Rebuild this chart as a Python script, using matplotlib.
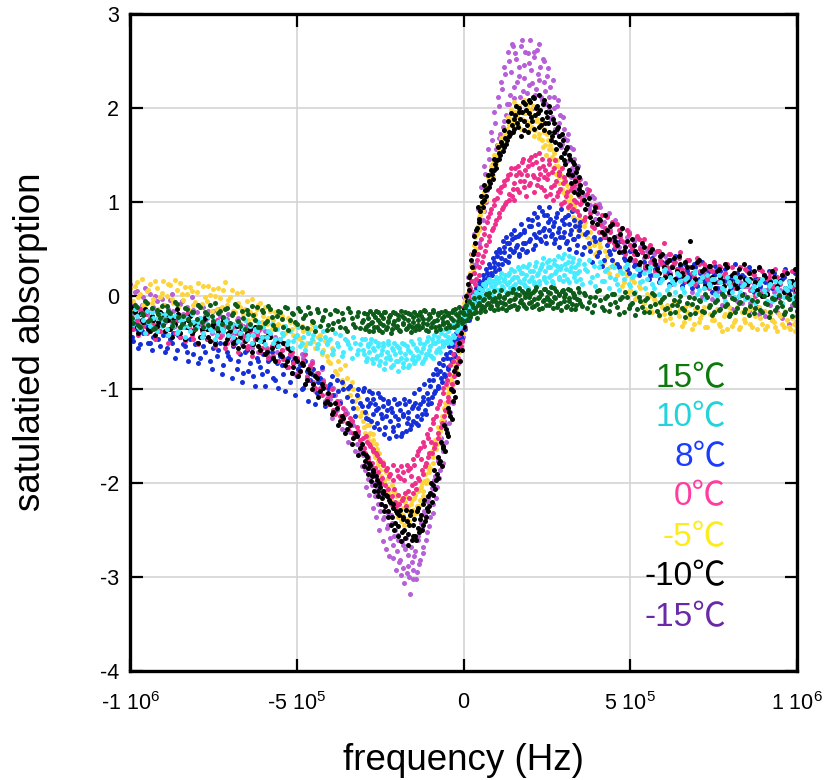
import matplotlib
matplotlib.use('Agg')
from matplotlib import pyplot as plt
import numpy as np

# frequency sweep, units of 1e5 Hz
freq = [-10.0,-9.9,-9.8,-9.7,-9.6,-9.5,-9.4,-9.3,-9.2,-9.1,
        -9.0,-8.9,-8.8,-8.7,-8.6,-8.5,-8.4,-8.3,-8.2,-8.1,
        -8.0,-7.9,-7.8,-7.7,-7.6,-7.5,-7.4,-7.3,-7.2,-7.1,
        -7.0,-6.9,-6.8,-6.7,-6.6,-6.5,-6.4,-6.3,-6.2,-6.1,
        -6.0,-5.9,-5.8,-5.7,-5.6,-5.5,-5.4,-5.3,-5.2,-5.1,
        -5.0,-4.9,-4.8,-4.7,-4.6,-4.5,-4.4,-4.3,-4.2,-4.1,
        -4.0,-3.9,-3.8,-3.7,-3.6,-3.5,-3.4,-3.3,-3.2,-3.1,
        -3.0,-2.95,-2.9,-2.85,-2.8,-2.75,-2.7,-2.65,-2.6,-2.55,
        -2.5,-2.45,-2.4,-2.35,-2.3,-2.25,-2.2,-2.15,-2.1,-2.05,
        -2.0,-1.95,-1.9,-1.85,-1.8,-1.75,-1.7,-1.65,-1.6,-1.55,
        -1.5,-1.45,-1.4,-1.35,-1.3,-1.25,-1.2,-1.15,-1.1,-1.05,
        -1.0,-0.95,-0.9,-0.85,-0.8,-0.75,-0.7,-0.65,-0.6,-0.55,
        -0.5,-0.45,-0.4,-0.35,-0.3,-0.25,-0.2,-0.15,-0.1,-0.05,
        0.0,0.05,0.1,0.15,0.2,0.25,0.3,0.35,0.4,0.45,
        0.5,0.55,0.6,0.65,0.7,0.75,0.8,0.85,0.9,0.95,
        1.0,1.05,1.1,1.15,1.2,1.25,1.3,1.35,1.4,1.45,
        1.5,1.55,1.6,1.65,1.7,1.75,1.8,1.85,1.9,1.95,
        2.0,2.05,2.1,2.15,2.2,2.25,2.3,2.35,2.4,2.45,
        2.5,2.55,2.6,2.65,2.7,2.75,2.8,2.85,2.9,2.95,
        3.0,3.05,3.1,3.15,3.2,3.25,3.3,3.35,3.4,3.45,
        3.5,3.6,3.7,3.8,3.9,4.0,4.1,4.2,4.3,4.4,
        4.5,4.6,4.7,4.8,4.9,5.0,5.1,5.2,5.3,5.4,
        5.5,5.6,5.7,5.8,5.9,6.0,6.1,6.2,6.3,6.4,
        6.5,6.6,6.7,6.8,6.9,7.0,7.1,7.2,7.3,7.4,
        7.5,7.6,7.7,7.8,7.9,8.0,8.1,8.2,8.3,8.4,
        8.5,8.6,8.7,8.8,8.9,9.0,9.1,9.2,9.3,9.4,
        9.5,9.6,9.7,9.8,9.9,10.0]

# second pass of points, in between the first ones
freq_b = [-9.95,-9.85,-9.75,-9.65,-9.55,-9.45,-9.35,-9.25,-9.15,-9.05,
          -8.95,-8.85,-8.75,-8.65,-8.55,-8.45,-8.35,-8.25,-8.15,-8.05,
          -7.95,-7.85,-7.75,-7.65,-7.55,-7.45,-7.35,-7.25,-7.15,-7.05,
          -6.95,-6.85,-6.75,-6.65,-6.55,-6.45,-6.35,-6.25,-6.15,-6.05,
          -5.95,-5.85,-5.75,-5.65,-5.55,-5.45,-5.35,-5.25,-5.15,-5.05,
          -4.95,-4.85,-4.75,-4.65,-4.55,-4.45,-4.35,-4.25,-4.15,-4.05,
          -3.95,-3.85,-3.75,-3.65,-3.55,-3.45,-3.35,-3.25,-3.15,-3.05,
          -2.975,-2.925,-2.875,-2.825,-2.775,-2.725,-2.675,-2.625,-2.575,-2.525,
          -2.475,-2.425,-2.375,-2.325,-2.275,-2.225,-2.175,-2.125,-2.075,-2.025,
          -1.975,-1.925,-1.875,-1.825,-1.775,-1.725,-1.675,-1.625,-1.575,-1.525,
          -1.475,-1.425,-1.375,-1.325,-1.275,-1.225,-1.175,-1.125,-1.075,-1.025,
          -0.975,-0.925,-0.875,-0.825,-0.775,-0.725,-0.675,-0.625,-0.575,-0.525,
          -0.475,-0.425,-0.375,-0.325,-0.275,-0.225,-0.175,-0.125,-0.075,-0.025,
          0.025,0.075,0.125,0.175,0.225,0.275,0.325,0.375,0.425,0.475,
          0.525,0.575,0.625,0.675,0.725,0.775,0.825,0.875,0.925,0.975,
          1.025,1.075,1.125,1.175,1.225,1.275,1.325,1.375,1.425,1.475,
          1.525,1.575,1.625,1.675,1.725,1.775,1.825,1.875,1.925,1.975,
          2.025,2.075,2.125,2.175,2.225,2.275,2.325,2.375,2.425,2.475,
          2.525,2.575,2.625,2.675,2.725,2.775,2.825,2.875,2.925,2.975,
          3.025,3.075,3.125,3.175,3.225,3.275,3.325,3.375,3.425,3.475,
          3.55,3.65,3.75,3.85,3.95,4.05,4.15,4.25,4.35,4.45,
          4.55,4.65,4.75,4.85,4.95,5.05,5.15,5.25,5.35,5.45,
          5.55,5.65,5.75,5.85,5.95,6.05,6.15,6.25,6.35,6.45,
          6.55,6.65,6.75,6.85,6.95,7.05,7.15,7.25,7.35,7.45,
          7.55,7.65,7.75,7.85,7.95,8.05,8.15,8.25,8.35,8.45,
          8.55,8.65,8.75,8.85,8.95,9.05,9.15,9.25,9.35,9.45,
          9.55,9.65,9.75,9.85,9.95,9.98]

abs_m15 = [0.12,-0.08,0.05,-0.15,-0.02,-0.20,0.02,-0.12,-0.06,-0.18,
           -0.10,-0.22,-0.05,-0.16,-0.26,-0.09,-0.20,-0.12,-0.28,-0.15,
           -0.18,-0.30,-0.12,-0.24,-0.33,-0.16,-0.28,-0.22,-0.36,-0.25,
           -0.30,-0.42,-0.26,-0.38,-0.32,-0.46,-0.35,-0.50,-0.40,-0.36,
           -0.45,-0.56,-0.42,-0.52,-0.60,-0.48,-0.66,-0.55,-0.62,-0.72,
           -0.68,-0.80,-0.66,-0.86,-0.74,-0.92,-0.82,-0.98,-0.90,-1.05,
           -1.10,-0.98,-1.22,-1.12,-1.32,-1.25,-1.45,-1.38,-1.58,-1.66,
           -1.70,-1.86,-1.78,-1.95,-1.84,-2.02,-1.92,-2.14,-2.04,-2.22,
           -2.30,-2.12,-2.38,-2.24,-2.48,-2.32,-2.58,-2.42,-2.66,-2.50,
           -2.72,-2.55,-2.82,-2.62,-2.90,-2.70,-2.96,-2.76,-3.18,-2.84,
           -3.02,-2.72,-2.94,-2.60,-2.82,-2.48,-2.68,-2.34,-2.52,-2.20,
           -2.36,-2.05,-2.22,-1.92,-2.04,-1.76,-1.86,-1.58,-1.66,-1.38,
           -1.45,-1.20,-1.24,-1.00,-1.02,-0.78,-0.82,-0.56,-0.58,-0.34,
           -0.30,-0.12,-0.10,0.10,0.06,0.34,0.24,0.56,0.44,0.82,
           0.72,1.06,0.90,1.30,1.12,1.46,1.26,1.66,1.42,1.84,
           1.60,2.02,1.72,2.20,1.86,2.36,2.04,2.50,2.14,2.68,
           2.22,2.58,2.28,2.44,2.12,2.72,2.32,2.60,2.16,2.48,
           2.72,2.26,2.54,2.14,2.62,2.30,2.44,2.08,2.50,2.18,
           2.34,1.98,2.22,1.90,2.12,1.78,2.02,1.70,1.92,1.62,
           1.78,1.52,1.66,1.44,1.58,1.36,1.46,1.28,1.36,1.18,
           1.24,1.06,1.14,0.96,1.04,0.88,0.94,0.78,0.86,0.70,
           0.76,0.64,0.70,0.56,0.62,0.48,0.58,0.44,0.52,0.40,
           0.48,0.36,0.44,0.30,0.42,0.26,0.38,0.24,0.34,0.20,
           0.30,0.16,0.28,0.14,0.24,0.10,0.26,0.08,0.20,0.12,
           0.22,0.04,0.18,-0.02,0.16,0.06,0.12,-0.06,0.14,0.02,
           0.10,-0.08,0.12,-0.12,0.08,-0.16,0.06,-0.10,0.04,-0.18,
           0.06,-0.20,0.02,-0.14,-0.06,-0.22]

abs_m15_b = [-0.20,0.04,-0.26,-0.10,0.08,-0.30,-0.14,0.00,-0.24,-0.04,
             -0.28,-0.14,0.02,-0.32,-0.20,-0.06,-0.34,-0.18,-0.02,-0.28,
             -0.10,-0.36,-0.22,-0.16,-0.40,-0.30,-0.14,-0.42,-0.32,-0.20,
             -0.48,-0.34,-0.24,-0.52,-0.44,-0.30,-0.56,-0.40,-0.60,-0.46,
             -0.38,-0.64,-0.54,-0.44,-0.70,-0.58,-0.50,-0.76,-0.64,-0.84,
             -0.78,-0.62,-0.94,-0.82,-0.70,-1.02,-0.88,-0.78,-1.12,-0.96,
             -1.30,-1.06,-1.16,-1.42,-1.22,-1.56,-1.34,-1.66,-1.48,-1.82,
             -1.62,-2.04,-1.74,-2.12,-1.90,-2.26,-2.00,-2.36,-2.10,-2.50,
             -2.22,-2.62,-2.36,-2.70,-2.44,-2.78,-2.34,-2.80,-2.56,-2.92,
             -2.60,-2.84,-2.98,-2.66,-3.06,-2.58,-2.88,-3.00,-2.68,-2.92,
             -2.78,-3.02,-2.56,-2.86,-2.42,-2.74,-2.30,-2.60,-2.16,-2.46,
             -2.10,-2.32,-1.96,-2.16,-1.74,-1.94,-1.52,-1.78,-1.34,-1.56,
             -1.14,-1.36,-0.92,-1.14,-0.70,-0.92,-0.46,-0.70,-0.26,-0.44,
             -0.02,-0.22,0.20,0.00,0.44,0.16,0.66,0.34,0.92,0.56,
             1.16,0.80,1.38,1.00,1.56,1.20,1.74,1.40,1.96,1.56,
             2.12,1.68,2.28,1.80,2.44,1.92,2.60,2.04,2.38,2.66,
             2.10,2.52,1.96,2.34,2.66,2.18,2.46,1.98,2.58,2.24,
             2.40,2.00,2.60,2.20,2.36,2.68,2.12,2.52,2.28,2.04,
             2.42,2.12,1.88,2.30,2.00,1.74,2.08,1.84,1.58,1.90,
             1.68,1.42,1.72,1.50,1.26,1.56,1.32,1.14,1.38,1.10,
             1.00,1.20,0.92,1.06,0.82,0.98,0.74,0.66,0.88,0.60,
             0.80,0.52,0.72,0.46,0.68,0.38,0.60,0.32,0.54,0.28,
             0.50,0.22,0.46,0.34,0.18,0.42,0.28,0.12,0.36,0.24,
             0.10,0.34,0.20,0.04,0.30,0.16,-0.02,0.24,0.14,-0.04,
             0.26,0.08,-0.10,0.18,0.02,-0.14,0.20,0.10,-0.08,0.14,
             -0.16,0.08,0.16,-0.20,0.04,-0.22,0.12,-0.26,-0.04,0.06,
             -0.24,0.02,-0.30,-0.10,0.04,-0.28]

abs_m5 = [0.08,-0.06,0.14,0.02,-0.10,0.05,0.12,-0.04,0.08,-0.02,
          0.15,0.00,0.11,-0.08,0.06,0.13,-0.05,0.02,0.09,-0.10,
          0.04,-0.12,0.10,-0.06,0.01,0.07,-0.14,-0.03,0.06,-0.10,
          -0.02,-0.16,0.03,-0.12,-0.20,-0.06,-0.18,-0.24,-0.14,-0.08,
          -0.22,-0.30,-0.16,-0.26,-0.34,-0.20,-0.32,-0.38,-0.28,-0.42,
          -0.34,-0.46,-0.38,-0.50,-0.36,-0.48,-0.52,-0.42,-0.58,-0.64,
          -0.72,-0.62,-0.84,-0.78,-0.94,-0.88,-1.06,-1.00,-1.20,-1.28,
          -1.34,-1.46,-1.38,-1.54,-1.46,-1.62,-1.54,-1.72,-1.64,-1.80,
          -1.86,-1.76,-1.96,-1.86,-2.04,-1.94,-2.14,-2.02,-2.22,-2.10,
          -2.24,-2.12,-2.30,-2.16,-2.34,-2.20,-2.38,-2.24,-2.32,-2.18,
          -2.28,-2.12,-2.24,-2.06,-2.18,-2.00,-2.08,-1.90,-1.96,-1.80,
          -1.84,-1.66,-1.72,-1.54,-1.58,-1.40,-1.44,-1.28,-1.32,-1.14,
          -1.16,-0.98,-1.02,-0.86,-0.86,-0.66,-0.68,-0.46,-0.50,-0.28,
          -0.18,-0.02,0.02,0.20,0.24,0.44,0.46,0.62,0.66,0.84,
          0.86,0.98,1.04,1.12,1.18,1.24,1.30,1.36,1.42,1.46,
          1.50,1.56,1.62,1.66,1.70,1.74,1.78,1.82,1.84,1.88,
          1.86,1.96,1.92,2.02,1.96,1.88,2.06,1.94,2.00,1.84,
          1.98,1.80,1.92,1.76,1.88,1.72,1.84,1.66,1.78,1.60,
          1.72,1.56,1.60,1.48,1.52,1.38,1.44,1.26,1.34,1.14,
          1.24,1.08,1.18,0.98,1.06,0.90,0.98,0.82,0.90,0.74,
          0.82,0.74,0.62,0.68,0.54,0.46,0.52,0.36,0.42,0.30,
          0.34,0.22,0.28,0.14,0.22,0.06,0.14,-0.02,0.08,-0.08,
          0.02,-0.12,-0.04,-0.16,-0.08,-0.20,-0.10,-0.24,-0.06,-0.18,
          -0.14,-0.28,-0.18,-0.10,-0.30,-0.16,-0.24,-0.12,-0.34,-0.20,
          -0.26,-0.14,-0.32,-0.22,-0.36,-0.18,-0.28,-0.12,-0.33,-0.25,
          -0.18,-0.30,-0.14,-0.36,-0.24,-0.16,-0.32,-0.20,-0.28,-0.38,
          -0.22,-0.34,-0.26,-0.36,-0.30,-0.34]

abs_m5_b = [-0.14,0.10,-0.02,0.18,-0.12,0.06,-0.08,0.16,-0.14,0.03,
            -0.10,0.12,-0.04,0.17,-0.12,0.02,0.09,-0.14,0.05,-0.07,
            0.13,-0.09,-0.02,0.10,-0.16,0.00,0.08,-0.12,0.14,-0.05,
            0.06,-0.18,-0.08,0.04,-0.14,-0.26,-0.04,-0.20,-0.10,-0.28,
            -0.12,-0.24,-0.36,-0.18,-0.30,-0.22,-0.40,-0.24,-0.36,-0.30,
            -0.44,-0.32,-0.54,-0.40,-0.30,-0.56,-0.44,-0.62,-0.48,-0.70,
            -0.56,-0.80,-0.70,-0.90,-0.74,-1.00,-0.92,-1.12,-1.08,-1.24,
            -1.40,-1.26,-1.50,-1.38,-1.58,-1.48,-1.68,-1.58,-1.76,-1.68,
            -1.92,-1.80,-1.98,-1.88,-2.10,-1.90,-2.18,-2.08,-2.26,-2.14,
            -2.36,-2.20,-2.40,-2.26,-2.44,-2.14,-2.30,-2.40,-2.22,-2.34,
            -2.16,-2.32,-2.08,-2.24,-2.04,-2.14,-1.98,-2.00,-1.84,-1.88,
            -1.70,-1.78,-1.60,-1.64,-1.46,-1.50,-1.34,-1.38,-1.20,-1.24,
            -1.04,-1.10,-0.90,-0.94,-0.74,-0.78,-0.56,-0.60,-0.36,-0.40,
            -0.08,-0.12,0.12,0.08,0.32,0.28,0.54,0.50,0.74,0.70,
            0.94,0.90,1.10,1.02,1.26,1.16,1.38,1.28,1.50,1.40,
            1.60,1.52,1.68,1.60,1.76,1.66,1.90,1.72,1.98,1.80,
            2.06,1.90,1.82,2.00,1.78,1.94,2.08,1.86,2.04,1.76,
            1.90,2.02,1.70,1.86,1.96,1.68,1.82,1.58,1.74,1.50,
            1.66,1.46,1.56,1.36,1.46,1.30,1.38,1.20,1.28,1.10,
            1.20,1.02,1.12,0.92,1.02,0.84,0.94,0.78,0.70,0.86,
            0.66,0.78,0.52,0.60,0.44,0.56,0.32,0.48,0.24,0.38,
            0.18,0.30,0.10,0.24,0.04,0.18,-0.04,0.10,-0.06,-0.14,
            0.00,-0.18,-0.06,-0.22,-0.12,-0.26,-0.14,-0.30,-0.08,-0.22,
            -0.32,-0.12,-0.24,-0.36,-0.14,-0.28,-0.20,-0.34,-0.10,-0.26,
            -0.16,-0.30,-0.38,-0.20,-0.12,-0.32,-0.26,-0.36,-0.18,-0.28,
            -0.14,-0.34,-0.22,-0.12,-0.30,-0.36,-0.18,-0.26,-0.34,-0.20,
            -0.30,-0.16,-0.34,-0.24,-0.38,-0.28]

abs_8 = [-0.32,-0.48,-0.36,-0.52,-0.40,-0.34,-0.50,-0.44,-0.38,-0.54,
         -0.42,-0.56,-0.46,-0.40,-0.58,-0.44,-0.52,-0.60,-0.46,-0.62,
         -0.50,-0.66,-0.54,-0.46,-0.70,-0.56,-0.64,-0.50,-0.74,-0.60,
         -0.68,-0.54,-0.78,-0.62,-0.82,-0.58,-0.72,-0.86,-0.66,-0.76,
         -0.62,-0.80,-0.68,-0.88,-0.72,-0.64,-0.84,-0.76,-0.92,-0.70,
         -0.86,-0.74,-0.98,-0.80,-0.90,-0.78,-1.04,-0.88,-0.96,-1.10,
         -0.94,-1.06,-0.90,-1.14,-1.00,-1.08,-0.96,-1.20,-1.06,-1.14,
         -1.02,-1.24,-1.10,-1.32,-1.14,-1.04,-1.26,-1.16,-1.36,-1.20,
         -1.08,-1.30,-1.18,-1.40,-1.22,-1.12,-1.34,-1.24,-1.44,-1.28,
         -1.16,-1.38,-1.22,-1.46,-1.28,-1.16,-1.36,-1.24,-1.42,-1.20,
         -1.34,-1.14,-1.28,-1.38,-1.16,-1.26,-1.08,-1.22,-1.04,-1.16,
         -0.96,-1.08,-0.90,-1.02,-0.84,-0.96,-0.80,-0.92,-0.74,-0.86,
         -0.66,-0.78,-0.60,-0.70,-0.54,-0.64,-0.46,-0.56,-0.38,-0.46,
         -0.28,-0.36,-0.18,-0.26,-0.10,-0.16,-0.04,-0.08,0.04,0.00,
         0.12,0.06,0.18,0.12,0.24,0.16,0.30,0.22,0.36,0.26,
         0.42,0.28,0.46,0.34,0.52,0.38,0.56,0.42,0.50,0.60,
         0.48,0.62,0.54,0.44,0.66,0.50,0.70,0.56,0.48,0.74,
         0.60,0.80,0.66,0.54,0.84,0.68,0.60,0.90,0.72,0.64,
         0.86,0.70,0.82,0.66,0.78,0.60,0.88,0.72,0.62,0.80,
         0.68,0.84,0.58,0.76,0.66,0.90,0.60,0.74,0.54,0.70,
         0.78,0.52,0.68,0.48,0.62,0.42,0.60,0.38,0.54,0.44,
         0.50,0.34,0.58,0.40,0.28,0.48,0.32,0.44,0.26,0.36,
         0.42,0.22,0.36,0.30,0.18,0.34,0.24,0.38,0.16,0.28,
         0.32,0.14,0.26,0.20,0.34,0.10,0.24,0.16,0.28,0.12,
         0.22,0.08,0.26,0.16,0.30,0.06,0.18,0.24,0.10,0.20,
         0.14,0.26,0.04,0.18,0.10,0.22,0.02,0.16,0.24,0.08,
         0.14,0.20,0.02,0.16,0.06,0.12]

abs_8_b = [-0.44,-0.30,-0.56,-0.38,-0.28,-0.50,-0.58,-0.34,-0.46,-0.30,
           -0.60,-0.36,-0.50,-0.66,-0.42,-0.32,-0.54,-0.70,-0.40,-0.52,
           -0.72,-0.44,-0.60,-0.36,-0.78,-0.48,-0.58,-0.84,-0.52,-0.64,
           -0.88,-0.50,-0.70,-0.92,-0.60,-0.80,-0.52,-0.96,-0.70,-0.84,
           -0.96,-0.70,-0.60,-0.90,-0.98,-0.74,-1.02,-0.66,-0.82,-1.06,
           -0.78,-1.00,-0.70,-1.12,-0.84,-1.16,-0.92,-0.76,-1.18,-0.98,
           -0.86,-1.22,-1.02,-0.92,-1.26,-0.98,-1.12,-1.28,-1.00,-1.18,
           -0.98,-1.30,-1.18,-1.02,-1.34,-1.10,-1.40,-1.22,-1.04,-1.42,
           -1.26,-1.10,-1.48,-1.28,-1.14,-1.52,-1.20,-1.40,-1.10,-1.50,
           -1.32,-1.14,-1.50,-1.26,-1.10,-1.44,-1.30,-1.12,-1.38,-1.18,
           -1.04,-1.36,-1.20,-1.00,-1.32,-1.12,-0.94,-1.26,-1.10,-0.90,
           -1.14,-0.84,-1.04,-0.78,-0.98,-0.72,-0.88,-0.68,-0.84,-0.62,
           -0.76,-0.54,-0.68,-0.48,-0.62,-0.40,-0.52,-0.34,-0.44,-0.24,
           -0.32,-0.14,-0.22,-0.06,-0.14,0.02,-0.02,0.08,0.06,0.16,
           0.10,0.22,0.16,0.28,0.20,0.34,0.24,0.40,0.30,0.46,
           0.34,0.50,0.40,0.58,0.46,0.62,0.36,0.56,0.66,0.46,
           0.70,0.52,0.64,0.42,0.76,0.56,0.68,0.46,0.82,0.58,
           0.74,0.50,0.88,0.62,0.76,0.94,0.58,0.70,0.86,0.56,
           0.78,0.94,0.64,0.74,0.56,0.84,0.68,0.52,0.92,0.62,
           0.76,0.56,0.86,0.50,0.70,0.60,0.80,0.46,0.64,0.74,
           0.44,0.66,0.56,0.36,0.58,0.46,0.32,0.62,0.48,0.38,
           0.56,0.30,0.46,0.38,0.24,0.52,0.34,0.22,0.46,0.30,
           0.18,0.40,0.28,0.14,0.36,0.26,0.12,0.30,0.42,0.20,
           0.10,0.34,0.22,0.08,0.30,0.18,0.36,0.12,0.26,0.04,
           0.32,0.14,0.04,0.28,0.20,0.10,0.34,0.00,0.22,0.12,
           0.30,0.06,0.18,0.28,0.00,0.14,0.26,0.08,0.20,-0.02,
           0.18,0.28,0.06,0.12,0.24,-0.02]

abs_0 = [-0.22,-0.36,-0.26,-0.14,-0.32,-0.40,-0.24,-0.30,-0.18,-0.38,
         -0.28,-0.42,-0.22,-0.34,-0.26,-0.44,-0.30,-0.20,-0.36,-0.46,
         -0.34,-0.24,-0.42,-0.30,-0.48,-0.36,-0.26,-0.44,-0.38,-0.50,
         -0.34,-0.52,-0.40,-0.30,-0.46,-0.56,-0.38,-0.50,-0.42,-0.60,
         -0.48,-0.58,-0.42,-0.64,-0.52,-0.46,-0.68,-0.56,-0.62,-0.72,
         -0.66,-0.80,-0.70,-0.88,-0.76,-0.94,-0.84,-1.00,-0.92,-1.10,
         -1.06,-1.22,-1.12,-1.28,-1.20,-1.36,-1.30,-1.46,-1.40,-1.54,
         -1.52,-1.68,-1.56,-1.74,-1.60,-1.78,-1.66,-1.84,-1.70,-1.88,
         -1.76,-1.94,-1.80,-2.02,-1.84,-2.06,-1.90,-2.14,-1.96,-2.20,
         -1.86,-2.12,-1.94,-2.18,-1.88,-2.10,-1.80,-2.08,-1.84,-2.02,
         -1.74,-2.00,-1.70,-1.94,-1.62,-1.86,-1.56,-1.82,-1.48,-1.72,
         -1.42,-1.68,-1.32,-1.58,-1.20,-1.46,-1.12,-1.36,-0.98,-1.22,
         -0.90,-1.08,-0.74,-0.94,-0.62,-0.80,-0.50,-0.66,-0.36,-0.48,
         -0.22,-0.34,-0.06,-0.18,0.08,-0.02,0.24,0.12,0.38,0.22,
         0.52,0.36,0.66,0.48,0.78,0.58,0.88,0.70,0.96,0.76,
         1.04,0.84,1.10,0.92,1.18,0.98,1.24,1.02,1.30,1.06,
         1.20,1.36,1.14,1.32,1.22,1.42,1.16,1.34,1.28,1.44,
         1.20,1.40,1.26,1.50,1.18,1.36,1.30,1.46,1.12,1.34,
         1.24,1.40,1.08,1.32,1.18,1.44,1.06,1.28,1.14,1.36,
         1.00,1.22,1.10,1.32,0.96,1.16,1.02,1.24,0.90,1.06,
         0.98,0.80,1.08,0.88,0.72,0.94,0.76,0.62,0.84,0.68,
         0.56,0.76,0.62,0.48,0.70,0.54,0.44,0.64,0.50,0.60,
         0.42,0.54,0.34,0.48,0.38,0.56,0.30,0.44,0.36,0.28,
         0.46,0.24,0.38,0.30,0.20,0.40,0.26,0.34,0.18,0.28,
         0.36,0.14,0.30,0.22,0.34,0.12,0.24,0.18,0.30,0.10,
         0.26,0.06,0.22,0.16,0.28,0.04,0.18,0.24,0.10,0.20,
         0.12,0.26,0.02,0.16,0.08,0.20]

abs_0_b = [-0.30,-0.16,-0.42,-0.28,-0.20,-0.36,-0.24,-0.46,-0.32,-0.22,
           -0.38,-0.50,-0.28,-0.40,-0.24,-0.34,-0.48,-0.26,-0.42,-0.30,
           -0.52,-0.38,-0.28,-0.46,-0.34,-0.54,-0.42,-0.32,-0.56,-0.44,
           -0.36,-0.48,-0.60,-0.42,-0.34,-0.54,-0.64,-0.46,-0.38,-0.56,
           -0.44,-0.66,-0.54,-0.48,-0.70,-0.58,-0.52,-0.76,-0.60,-0.68,
           -0.84,-0.72,-0.62,-0.90,-0.72,-0.98,-0.82,-1.06,-0.96,-1.16,
           -1.00,-1.26,-1.16,-1.34,-1.26,-1.42,-1.34,-1.50,-1.44,-1.60,
           -1.62,-1.50,-1.72,-1.58,-1.82,-1.64,-1.90,-1.68,-1.96,-1.74,
           -2.00,-1.78,-2.08,-1.86,-2.14,-1.92,-2.22,-1.80,-2.06,-2.24,
           -1.92,-2.22,-1.82,-2.16,-1.96,-2.24,-1.86,-2.16,-1.92,-2.10,
           -1.80,-2.06,-1.66,-1.96,-1.74,-1.90,-1.60,-1.78,-1.52,-1.68,
           -1.56,-1.36,-1.62,-1.28,-1.52,-1.16,-1.40,-1.04,-1.28,-0.94,
           -1.12,-0.84,-1.00,-0.70,-0.86,-0.56,-0.72,-0.42,-0.54,-0.30,
           -0.12,-0.26,0.02,-0.10,0.16,0.04,0.30,0.18,0.44,0.30,
           0.60,0.42,0.72,0.54,0.84,0.64,0.92,0.72,1.02,0.80,
           1.12,0.88,1.16,0.94,1.22,1.00,1.28,1.08,1.36,1.14,
           1.02,1.28,1.38,1.10,1.30,1.46,1.22,1.06,1.38,1.18,
           1.48,1.28,1.10,1.42,1.24,1.52,1.16,1.38,1.26,1.06,
           1.30,1.44,1.16,1.02,1.36,1.22,1.10,1.32,0.98,1.20,
           1.26,1.06,0.94,1.28,1.12,0.92,1.18,1.00,1.22,0.86,
           1.02,0.84,1.12,0.74,0.96,0.68,0.86,0.72,0.58,0.78,
           0.52,0.70,0.58,0.44,0.66,0.50,0.38,0.60,0.46,0.32,
           0.52,0.38,0.26,0.48,0.34,0.22,0.44,0.32,0.18,0.40,
           0.28,0.16,0.38,0.24,0.12,0.34,0.20,0.30,0.08,0.26,
           0.16,0.32,0.06,0.24,0.12,0.30,0.08,0.20,0.02,0.28,
           0.14,0.24,0.00,0.18,0.26,0.06,0.20,0.10,0.28,0.00,
           0.22,0.06,0.16,0.26,0.04,0.14]

abs_m10 = [-0.24,-0.12,-0.34,-0.20,-0.28,-0.16,-0.38,-0.26,-0.32,-0.18,
           -0.30,-0.20,-0.36,-0.24,-0.14,-0.40,-0.28,-0.34,-0.22,-0.38,
           -0.30,-0.44,-0.26,-0.36,-0.48,-0.30,-0.42,-0.34,-0.24,-0.46,
           -0.38,-0.50,-0.32,-0.44,-0.54,-0.40,-0.36,-0.52,-0.46,-0.58,
           -0.48,-0.60,-0.44,-0.66,-0.54,-0.62,-0.50,-0.70,-0.58,-0.76,
           -0.70,-0.80,-0.74,-0.90,-0.82,-0.94,-0.88,-1.02,-0.98,-1.12,
           -1.16,-1.24,-1.20,-1.34,-1.30,-1.42,-1.38,-1.52,-1.50,-1.62,
           -1.68,-1.76,-1.72,-1.84,-1.80,-1.92,-1.88,-2.02,-1.96,-2.08,
           -2.04,-2.16,-2.10,-2.24,-2.14,-2.30,-2.20,-2.36,-2.26,-2.42,
           -2.32,-2.46,-2.28,-2.52,-2.36,-2.58,-2.40,-2.54,-2.34,-2.60,
           -2.44,-2.56,-2.30,-2.48,-2.38,-2.50,-2.22,-2.40,-2.26,-2.30,
           -2.10,-2.20,-2.02,-2.06,-1.90,-1.94,-1.76,-1.82,-1.62,-1.66,
           -1.46,-1.50,-1.28,-1.32,-1.12,-1.08,-0.92,-0.84,-0.70,-0.58,
           -0.34,-0.22,-0.06,0.06,0.22,0.30,0.48,0.56,0.72,0.82,
           0.90,1.00,1.02,1.12,1.14,1.22,1.20,1.30,1.34,1.40,
           1.44,1.52,1.50,1.60,1.58,1.68,1.66,1.74,1.72,1.82,
           1.78,1.92,1.84,2.00,1.88,1.96,1.76,2.04,1.82,1.94,
           2.06,1.86,2.10,1.92,2.02,1.80,1.98,1.88,2.08,1.84,
           1.90,1.74,1.96,1.70,1.84,1.64,1.78,1.70,1.60,1.72,
           1.52,1.40,1.58,1.34,1.46,1.28,1.40,1.22,1.36,1.14,
           1.18,1.02,0.98,0.84,0.90,0.76,0.80,0.66,0.70,0.74,
           0.62,0.54,0.66,0.48,0.58,0.40,0.54,0.44,0.36,0.52,
           0.32,0.46,0.38,0.28,0.42,0.30,0.36,0.22,0.40,0.26,
           0.34,0.20,0.30,0.58,0.24,0.36,0.16,0.28,0.22,0.32,
           0.14,0.26,0.20,0.10,0.30,0.16,0.24,0.08,0.20,0.34,
           0.12,0.18,0.26,0.06,0.16,0.22,0.02,0.14,0.20,0.10,
           0.16,0.04,0.24,0.12,-0.04,0.18]

abs_m10_b = [-0.30,-0.18,-0.40,-0.26,-0.14,-0.36,-0.22,-0.42,-0.28,-0.20,
             -0.38,-0.26,-0.44,-0.30,-0.20,-0.34,-0.46,-0.26,-0.40,-0.32,
             -0.50,-0.36,-0.24,-0.44,-0.34,-0.52,-0.38,-0.28,-0.50,-0.40,
             -0.30,-0.46,-0.56,-0.36,-0.48,-0.42,-0.60,-0.34,-0.54,-0.44,
             -0.62,-0.42,-0.56,-0.70,-0.48,-0.64,-0.74,-0.56,-0.82,-0.66,
             -0.86,-0.72,-0.94,-0.78,-1.00,-0.86,-1.08,-0.94,-1.14,-1.04,
             -1.26,-1.14,-1.38,-1.28,-1.46,-1.36,-1.58,-1.46,-1.70,-1.58,
             -1.82,-1.70,-1.90,-1.78,-1.98,-1.86,-2.08,-1.92,-2.14,-2.00,
             -2.22,-2.08,-2.30,-2.12,-2.36,-2.18,-2.44,-2.22,-2.50,-2.30,
             -2.56,-2.34,-2.62,-2.38,-2.50,-2.28,-2.66,-2.44,-2.30,-2.56,
             -2.38,-2.60,-2.26,-2.52,-2.34,-2.44,-2.18,-2.36,-2.14,-2.24,
             -2.00,-2.12,-1.86,-1.96,-1.72,-1.78,-1.56,-1.60,-1.38,-1.42,
             -1.20,-1.24,-1.00,-1.02,-0.80,-0.76,-0.58,-0.50,-0.40,-0.30,
             -0.14,0.00,0.12,0.20,0.38,0.44,0.64,0.70,0.94,0.78,
             1.06,0.94,1.18,1.06,1.28,1.16,1.34,1.24,1.46,1.36,
             1.58,1.46,1.64,1.54,1.76,1.62,1.86,1.70,1.94,1.74,
             1.88,2.02,1.80,1.96,1.70,2.06,1.86,1.98,1.74,2.08,
             1.90,2.12,1.78,2.00,1.94,2.14,1.82,2.04,1.76,1.96,
             1.84,2.02,1.66,1.88,1.74,1.56,1.80,1.62,1.48,1.66,
             1.44,1.56,1.30,1.50,1.20,1.42,1.10,1.32,1.08,1.26,
             1.10,0.92,1.04,0.78,0.94,0.82,0.68,0.86,0.60,0.76,
             0.58,0.46,0.72,0.52,0.38,0.60,0.48,0.34,0.56,0.42,
             0.28,0.50,0.34,0.24,0.44,0.20,0.38,0.30,0.18,0.42,
             0.24,0.36,0.14,0.30,0.18,0.38,0.26,0.10,0.32,0.20,
             0.08,0.28,0.16,0.34,0.04,0.22,0.12,0.28,0.02,0.18,
             0.24,0.06,0.14,0.30,0.00,0.20,0.10,0.26,-0.02,0.14,
             0.22,0.08,0.02,0.16,0.28,0.06]

abs_10 = [-0.18,-0.30,-0.22,-0.36,-0.26,-0.16,-0.32,-0.24,-0.38,-0.20,
          -0.28,-0.36,-0.22,-0.32,-0.40,-0.26,-0.34,-0.24,-0.38,-0.28,
          -0.34,-0.24,-0.40,-0.30,-0.36,-0.26,-0.42,-0.32,-0.38,-0.28,
          -0.34,-0.44,-0.30,-0.40,-0.36,-0.46,-0.32,-0.42,-0.38,-0.48,
          -0.34,-0.44,-0.40,-0.50,-0.36,-0.46,-0.42,-0.52,-0.38,-0.48,
          -0.42,-0.54,-0.44,-0.36,-0.50,-0.42,-0.56,-0.46,-0.38,-0.52,
          -0.46,-0.58,-0.50,-0.42,-0.60,-0.48,-0.56,-0.44,-0.62,-0.52,
          -0.58,-0.46,-0.66,-0.54,-0.50,-0.68,-0.56,-0.48,-0.64,-0.54,
          -0.70,-0.58,-0.50,-0.72,-0.60,-0.52,-0.68,-0.56,-0.74,-0.62,
          -0.54,-0.70,-0.60,-0.50,-0.72,-0.62,-0.54,-0.76,-0.60,-0.68,
          -0.52,-0.70,-0.58,-0.64,-0.50,-0.72,-0.56,-0.66,-0.48,-0.62,
          -0.54,-0.46,-0.66,-0.50,-0.58,-0.44,-0.60,-0.48,-0.54,-0.42,
          -0.50,-0.38,-0.46,-0.34,-0.42,-0.30,-0.38,-0.26,-0.34,-0.22,
          -0.28,-0.18,-0.24,-0.12,-0.20,-0.06,-0.14,-0.02,-0.10,0.02,
          -0.06,0.06,0.00,0.10,0.04,0.14,0.02,0.16,0.08,0.12,
          0.18,0.06,0.20,0.10,0.16,0.22,0.12,0.24,0.08,0.18,
          0.26,0.12,0.20,0.28,0.14,0.24,0.18,0.10,0.30,0.16,
          0.26,0.20,0.12,0.32,0.22,0.16,0.28,0.34,0.18,0.26,
          0.36,0.20,0.30,0.16,0.38,0.24,0.32,0.18,0.28,0.40,
          0.22,0.34,0.18,0.42,0.26,0.36,0.20,0.30,0.24,0.38,
          0.18,0.34,0.26,0.14,0.32,0.22,0.36,0.16,0.28,0.20,
          0.30,0.12,0.26,0.18,0.34,0.10,0.22,0.28,0.14,0.24,
          0.18,0.30,0.08,0.22,0.14,0.26,0.06,0.20,0.12,0.24,
          0.16,0.04,0.20,0.12,0.24,0.02,0.16,0.08,0.22,0.10,
          0.18,0.00,0.14,0.06,0.20,0.10,-0.02,0.16,0.04,0.12,
          0.18,-0.04,0.10,0.02,0.14,0.06,-0.06,0.12,0.00,0.08,
          0.14,-0.02,0.06,0.10,0.00,0.06]

abs_10_b = [-0.26,-0.14,-0.34,-0.20,-0.40,-0.28,-0.18,-0.36,-0.24,-0.32,
            -0.20,-0.42,-0.30,-0.22,-0.38,-0.26,-0.44,-0.32,-0.20,-0.36,
            -0.28,-0.44,-0.34,-0.22,-0.38,-0.46,-0.28,-0.36,-0.26,-0.42,
            -0.30,-0.38,-0.48,-0.34,-0.26,-0.42,-0.50,-0.36,-0.28,-0.44,
            -0.52,-0.38,-0.30,-0.46,-0.54,-0.40,-0.32,-0.48,-0.56,-0.44,
            -0.34,-0.50,-0.58,-0.40,-0.46,-0.34,-0.52,-0.60,-0.44,-0.48,
            -0.62,-0.40,-0.54,-0.64,-0.46,-0.52,-0.66,-0.50,-0.58,-0.46,
            -0.62,-0.70,-0.52,-0.60,-0.46,-0.72,-0.58,-0.66,-0.50,-0.74,
            -0.62,-0.54,-0.78,-0.66,-0.48,-0.64,-0.76,-0.58,-0.50,-0.70,
            -0.80,-0.56,-0.66,-0.76,-0.52,-0.68,-0.58,-0.74,-0.48,-0.64,
            -0.72,-0.56,-0.66,-0.46,-0.60,-0.70,-0.52,-0.62,-0.44,-0.58,
            -0.64,-0.50,-0.42,-0.60,-0.48,-0.56,-0.40,-0.52,-0.36,-0.48,
            -0.44,-0.32,-0.50,-0.30,-0.44,-0.28,-0.36,-0.22,-0.30,-0.18,
            -0.22,-0.10,-0.18,-0.06,-0.16,0.00,-0.08,0.04,-0.04,0.08,
            0.02,0.12,-0.02,0.14,0.06,0.18,0.10,0.00,0.16,0.20,
            0.06,0.14,0.24,0.08,0.18,0.04,0.22,0.14,0.28,0.10,
            0.20,0.06,0.30,0.16,0.24,0.32,0.12,0.22,0.08,0.34,
            0.18,0.26,0.14,0.36,0.24,0.12,0.30,0.40,0.20,0.14,
            0.30,0.38,0.22,0.12,0.34,0.26,0.42,0.20,0.32,0.16,
            0.44,0.28,0.36,0.14,0.30,0.40,0.24,0.16,0.34,0.26,
            0.12,0.28,0.38,0.20,0.10,0.30,0.16,0.26,0.08,0.32,
            0.18,0.06,0.24,0.30,0.12,0.20,0.04,0.28,0.16,0.08,
            0.26,0.12,0.22,0.02,0.18,0.28,0.10,0.16,0.04,0.22,
            0.08,0.18,-0.02,0.14,0.26,0.06,0.20,-0.04,0.12,0.18,
            0.02,0.22,0.08,-0.06,0.14,0.04,0.20,0.00,0.10,-0.04,
            0.16,0.06,-0.08,0.12,0.18,0.02,0.10,-0.06,0.16,0.04,
            -0.08,0.08,0.14,-0.04,0.12,-0.02]

abs_15 = [-0.17,-0.29,-0.12,-0.33,-0.21,-0.08,-0.26,-0.36,-0.15,-0.24,
          -0.31,-0.11,-0.19,-0.28,-0.09,-0.34,-0.22,-0.14,-0.30,-0.18,
          -0.25,-0.12,-0.33,-0.20,-0.10,-0.27,-0.35,-0.16,-0.23,-0.13,
          -0.29,-0.19,-0.11,-0.32,-0.24,-0.15,-0.30,-0.21,-0.12,-0.34,
          -0.18,-0.27,-0.14,-0.31,-0.22,-0.17,-0.33,-0.13,-0.26,-0.20,
          -0.30,-0.16,-0.24,-0.35,-0.19,-0.28,-0.14,-0.32,-0.23,-0.37,
          -0.20,-0.29,-0.16,-0.33,-0.25,-0.38,-0.18,-0.30,-0.22,-0.35,
          -0.26,-0.36,-0.20,-0.31,-0.16,-0.28,-0.38,-0.23,-0.33,-0.18,
          -0.29,-0.39,-0.24,-0.17,-0.34,-0.27,-0.21,-0.36,-0.30,-0.19,
          -0.32,-0.25,-0.38,-0.22,-0.29,-0.17,-0.35,-0.26,-0.20,-0.33,
          -0.28,-0.37,-0.21,-0.31,-0.18,-0.34,-0.25,-0.16,-0.30,-0.38,
          -0.23,-0.29,-0.17,-0.33,-0.26,-0.19,-0.36,-0.24,-0.30,-0.16,
          -0.28,-0.21,-0.34,-0.18,-0.26,-0.14,-0.31,-0.22,-0.17,-0.29,
          -0.20,-0.12,-0.26,-0.16,-0.23,-0.09,-0.19,-0.13,-0.24,-0.08,
          -0.18,-0.11,-0.04,-0.16,-0.09,-0.02,-0.13,-0.06,-0.15,-0.03,
          -0.10,0.01,-0.07,-0.13,-0.02,-0.09,0.02,-0.12,-0.05,0.04,
          -0.10,-0.03,-0.14,0.01,-0.07,0.05,-0.11,-0.02,0.03,-0.08,
          0.02,-0.12,-0.04,0.06,-0.09,-0.01,0.04,-0.13,-0.05,0.07,
          -0.02,-0.10,0.03,-0.07,0.08,-0.03,-0.12,0.01,-0.08,0.05,
          -0.06,0.02,-0.11,-0.03,0.06,-0.09,0.01,-0.14,-0.04,0.04,
          -0.08,0.03,-0.13,-0.02,-0.10,0.05,-0.05,-0.15,0.00,-0.09,
          0.02,-0.12,-0.04,-0.17,-0.01,-0.10,0.03,-0.14,-0.06,-0.18,
          -0.03,-0.11,0.01,-0.16,-0.07,-0.02,-0.13,-0.19,-0.05,-0.10,
          0.00,-0.15,-0.08,-0.20,-0.03,-0.12,-0.06,-0.17,-0.01,-0.10,
          -0.18,-0.05,-0.14,0.00,-0.09,-0.20,-0.04,-0.13,-0.07,-0.17,
          -0.02,-0.11,-0.19,-0.06,-0.15,0.00,-0.09,-0.18,-0.04,-0.12,
          -0.07,-0.20,-0.02,-0.14,-0.08,-0.16]

abs_15_b = [-0.24,-0.10,-0.31,-0.19,-0.06,-0.27,-0.13,-0.35,-0.20,-0.11,
            -0.26,-0.16,-0.32,-0.07,-0.23,-0.30,-0.13,-0.25,-0.18,-0.36,
            -0.10,-0.28,-0.17,-0.31,-0.22,-0.08,-0.19,-0.30,-0.14,-0.34,
            -0.21,-0.09,-0.27,-0.16,-0.36,-0.20,-0.11,-0.26,-0.33,-0.15,
            -0.29,-0.11,-0.23,-0.36,-0.16,-0.25,-0.12,-0.37,-0.19,-0.28,
            -0.13,-0.33,-0.21,-0.12,-0.27,-0.38,-0.18,-0.26,-0.15,-0.31,
            -0.36,-0.15,-0.27,-0.19,-0.35,-0.13,-0.24,-0.33,-0.17,-0.28,
            -0.19,-0.33,-0.24,-0.38,-0.29,-0.20,-0.34,-0.16,-0.26,-0.37,
            -0.21,-0.31,-0.18,-0.36,-0.28,-0.23,-0.40,-0.18,-0.27,-0.33,
            -0.21,-0.37,-0.16,-0.30,-0.24,-0.36,-0.19,-0.31,-0.39,-0.23,
            -0.17,-0.32,-0.26,-0.36,-0.22,-0.29,-0.15,-0.37,-0.25,-0.20,
            -0.33,-0.15,-0.27,-0.38,-0.21,-0.32,-0.17,-0.28,-0.22,-0.35,
            -0.19,-0.31,-0.24,-0.15,-0.33,-0.20,-0.27,-0.12,-0.25,-0.18,
            -0.27,-0.10,-0.21,-0.06,-0.20,-0.12,-0.03,-0.17,-0.10,-0.01,
            -0.14,-0.05,-0.12,0.02,-0.08,0.03,-0.11,-0.04,0.05,-0.07,
            -0.14,-0.01,0.06,-0.08,-0.03,-0.15,0.03,-0.06,-0.11,0.07,
            -0.04,0.02,-0.12,0.08,-0.05,-0.09,0.03,-0.13,0.06,-0.02,
            -0.07,0.04,-0.11,0.09,-0.03,-0.14,0.02,-0.06,0.07,-0.10,
            0.04,-0.05,0.09,-0.13,-0.01,0.05,-0.09,0.02,-0.15,0.06,
            -0.02,-0.12,0.07,-0.06,-0.14,0.03,-0.01,-0.10,0.08,-0.05,
            -0.11,0.01,-0.07,-0.18,-0.02,0.06,-0.12,-0.03,-0.16,0.02,
            -0.07,-0.20,-0.02,0.04,-0.13,-0.08,-0.21,-0.01,-0.12,-0.05,
            -0.17,0.03,-0.09,-0.21,-0.04,-0.14,0.02,-0.10,-0.18,-0.06,
            -0.13,-0.23,-0.01,-0.09,-0.19,-0.05,-0.16,0.02,-0.12,-0.21,
            -0.07,-0.15,0.02,-0.11,-0.22,-0.03,-0.17,-0.08,0.01,-0.14,
            -0.21,-0.05,-0.13,0.02,-0.18,-0.08,-0.23,-0.03,-0.15,0.01,
            -0.11,-0.18,-0.04,-0.22,-0.10,-0.01]

# draw order bottom to top
series = [(abs_m15, abs_m15_b, '#b65fd8'), (abs_m5, abs_m5_b, '#fdd43a'),
          (abs_8, abs_8_b, '#1530d8'), (abs_0, abs_0_b, '#ef2f8c'),
          (abs_m10, abs_m10_b, '#000000'), (abs_10, abs_10_b, '#45ecff'),
          (abs_15, abs_15_b, '#0d5c1a')]

legend_labels = ['15\u2103', '10\u2103', '8\u2103', '0\u2103', '-5\u2103', '-10\u2103', '-15\u2103']
legend_colors = ['#0a7a0a', '#22d3d9', '#1a3cff', '#ff3ca0', '#fdec1a', '#000000', '#6a2aa8']
legend_baselines = [387, 426, 466, 505, 546, 585, 626]

x_ticks = [-1e6, -5e5, 0, 5e5, 1e6]
x_labels = ['-1 10$^{6}$', '-5 10$^{5}$', '0', '5 10$^{5}$', '1 10$^{6}$']
y_ticks = [-4, -3, -2, -1, 0, 1, 2, 3]

plt.rcParams['font.family'] = ['Liberation Sans', 'Noto Sans CJK SC', 'DejaVu Sans']
plt.rcParams['mathtext.default'] = 'regular'
plt.rcParams['axes.unicode_minus'] = False

fig = plt.figure(figsize=(8.25, 7.8), dpi=100)
ax = fig.add_axes([130 / 825, 1 - 671 / 780, 667 / 825, 657 / 780])

hz = np.array(freq) * 1e5
hz_b = np.array(freq_b) * 1e5
for vals, vals_b, col in series:
    ax.scatter(np.concatenate([hz, hz_b]), np.concatenate([vals, vals_b]),
               s=13, color=col, linewidths=0, zorder=3)

ax.set_xlim(-1e6, 1e6)
ax.set_ylim(-4, 3)
ax.set_xticks(x_ticks)
ax.set_xticklabels(x_labels)
ax.set_yticks(y_ticks)
ax.grid(True, color='#d4d4d4', linewidth=1.2, zorder=0)
ax.set_axisbelow(True)
ax.tick_params(direction='in', length=9, width=1.6, top=True, right=True, labelsize=15.5, pad=8)
ax.tick_params(axis='x', pad=15)
for s in ax.spines.values():
    s.set_linewidth(2.4)
    s.set_zorder(5)

fig.text(463 / 825, 1 - 770 / 780, 'frequency (Hz)', fontsize=26.5, ha='center', va='baseline')
fig.text(48 / 825, 1 - 342 / 780, 'satulatied absorption', fontsize=26.5, rotation=90,
         ha='right', va='center')

for lab, col, base in zip(legend_labels, legend_colors, legend_baselines):
    fig.text(726 / 825, 1 - base / 780, lab, color=col, fontsize=24, ha='right', va='baseline')

fig.savefig('out.png', dpi=100)
